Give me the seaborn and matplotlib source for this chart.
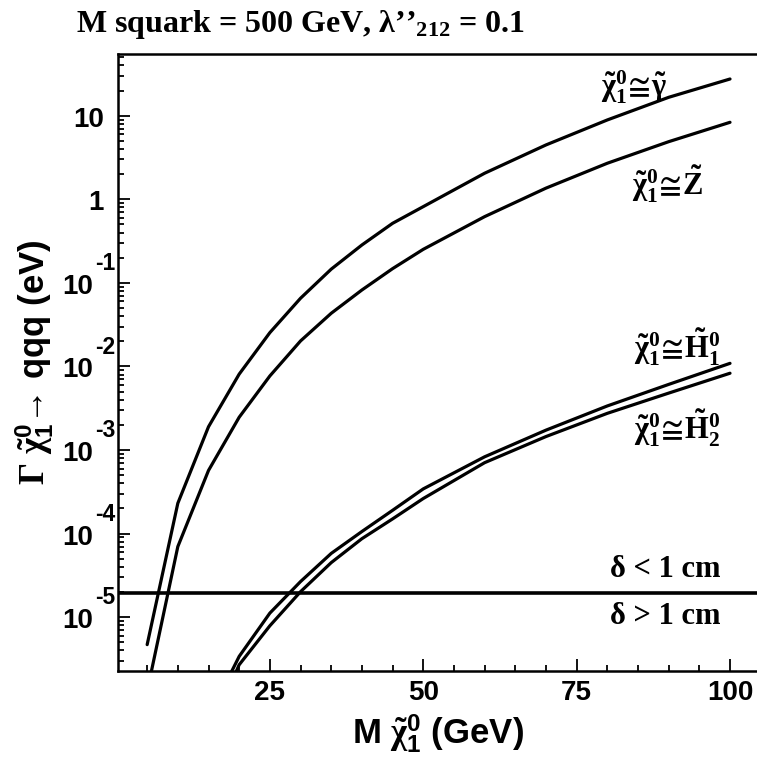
import numpy as np
import pandas as pd
import matplotlib
matplotlib.use('Agg')
import matplotlib.pyplot as plt
import matplotlib.ticker as mticker
import seaborn as sns

# neutralino mass (GeV) and decay width (eV)
mass_gaugino = [5, 10, 15, 20, 25, 30, 35, 40, 45, 50, 60, 70, 80, 90, 100]
width_photino = [4.7e-6, 2.31e-4, 1.9e-3, 8.1e-3, 0.0254, 0.0655, 0.146, 0.284,
                 0.516, 0.817, 2.05, 4.47, 8.9, 16.6, 27.5]
width_zino = [1.3e-6, 7.0e-5, 5.7e-4, 2.47e-3, 7.7e-3, 0.0202, 0.0433, 0.0822,
              0.148, 0.252, 0.62, 1.36, 2.70, 4.89, 8.34]

mass_higgsino = [15, 20, 25, 30, 35, 40, 45, 50, 60, 70, 80, 90, 100]
width_h1 = [6.3e-7, 3.4e-6, 1.12e-5, 2.67e-5, 5.8e-5, 1.06e-4, 1.9e-4, 3.43e-4,
            8.3e-4, 1.73e-3, 3.37e-3, 6.1e-3, 0.0109]
width_h2 = [4.0e-7, 2.7e-6, 7.9e-6, 2.02e-5, 4.5e-5, 8.7e-5, 1.5e-4, 2.63e-4,
            7.06e-4, 1.45e-3, 2.75e-3, 4.8e-3, 8.3e-3]

delta_1cm = 1.97e-5  # width giving a 1 cm decay length
decades = [-5, -4, -3, -2, -1, 0, 1]

df = pd.concat([
    pd.DataFrame({'mass': mass_gaugino, 'width': width_photino, 'model': 'photino'}),
    pd.DataFrame({'mass': mass_gaugino, 'width': width_zino, 'model': 'zino'}),
    pd.DataFrame({'mass': mass_higgsino, 'width': width_h1, 'model': 'h1'}),
    pd.DataFrame({'mass': mass_higgsino, 'width': width_h2, 'model': 'h2'}),
], ignore_index=True)

sns.set_theme(style='ticks')
plt.rcParams['font.family'] = ['Liberation Sans', 'DejaVu Sans']
plt.rcParams['font.weight'] = 'bold'
plt.rcParams['axes.labelweight'] = 'bold'
plt.rcParams['text.color'] = 'black'
plt.rcParams['axes.labelcolor'] = 'black'
plt.rcParams['mathtext.fontset'] = 'custom'
plt.rcParams['mathtext.rm'] = 'Liberation Serif:bold'
plt.rcParams['mathtext.it'] = 'Liberation Serif:italic:bold'
plt.rcParams['mathtext.bf'] = 'Liberation Serif:bold'
plt.rcParams['mathtext.sf'] = 'Liberation Sans:bold'
plt.rcParams['mathtext.default'] = 'rm'

fig = plt.figure(figsize=(7.57, 7.59), dpi=100)
ax = fig.add_axes([0.1563, 0.1163, 0.8437, 0.8132])

sns.lineplot(data=df, x='mass', y='width', hue='model', units='model',
             estimator=None, sort=False, palette=['black'] * 4,
             linewidth=2.3, legend=False, ax=ax)
ax.axhline(delta_1cm, color='black', linewidth=2.6)

ax.set_yscale('log')
ax.set_xlim(0.3, 104.4)
ax.set_ylim(2.29e-6, 55.5)

ax.xaxis.set_major_locator(mticker.MultipleLocator(25))
ax.xaxis.set_minor_locator(mticker.MultipleLocator(5))
ax.xaxis.set_major_formatter(mticker.FuncFormatter(lambda v, p: '%d' % v))
ax.yaxis.set_major_locator(mticker.LogLocator(base=10, numticks=20))
ax.yaxis.set_minor_locator(mticker.LogLocator(base=10, subs=np.arange(2, 10), numticks=20))
ax.yaxis.set_minor_formatter(mticker.NullFormatter())
ax.yaxis.set_major_formatter(mticker.NullFormatter())

# ROOT-style decade labels: "10" with a large raised exponent
for e in decades:
    v = 10.0 ** e
    if e >= 0:
        ax.annotate('1' if e == 0 else '10', xy=(0, v),
                    xycoords=('axes fraction', 'data'), xytext=(-10.5, -7.9),
                    textcoords='offset points', ha='right', va='baseline',
                    fontsize=20, fontweight='bold', annotation_clip=False)
    else:
        ax.annotate('10', xy=(0, v), xycoords=('axes fraction', 'data'),
                    xytext=(-18, -7.9), textcoords='offset points', ha='right',
                    va='baseline', fontsize=20, fontweight='bold',
                    annotation_clip=False)
        ax.annotate('-%d' % (-e), xy=(0, v), xycoords=('axes fraction', 'data'),
                    xytext=(-2.3, 9.2), textcoords='offset points', ha='right',
                    va='baseline', fontsize=16.5, fontweight='bold',
                    annotation_clip=False)

ax.tick_params(which='both', direction='in', left=True, bottom=True,
               top=False, right=False, colors='black', width=1.3)
ax.tick_params(which='major', length=8.5, labelsize=20)
ax.tick_params(which='minor', length=4.5)
ax.tick_params(axis='x', pad=7)

for s in ['top', 'left', 'bottom']:
    ax.spines[s].set_linewidth(1.8)
    ax.spines[s].set_color('black')
ax.spines['right'].set_visible(False)

ax.set_xlabel(r'M $\tilde{\chi}^{\mathsf{0}}_{\mathsf{1}}$ (GeV)', fontsize=25,
              fontweight='bold', va='center')
ax.xaxis.set_label_coords(0.5, -0.102)
ax.set_ylabel(r'$\Gamma\ \tilde{\chi}^{\mathsf{0}}_{\mathsf{1}}$→ qqq (eV)',
              fontsize=25, fontweight='bold', va='center')
ax.yaxis.set_label_coords(-0.13, 0.5)

serif = dict(family='Liberation Serif', weight='bold', color='black')
ax.text(89.7, 16.9, r'$\tilde{\chi}^{0}_{1}\!\cong\!\tilde{\gamma}$', ha='right',
        va='baseline', fontsize=22, **serif)
ax.text(95.6, 1.12, r'$\tilde{\chi}^{0}_{1}\!\cong\!\tilde{Z}$', ha='right',
        va='baseline', fontsize=22, **serif)
ax.text(98.4, 0.0126, r'$\tilde{\chi}^{0}_{1}\!\cong\!\tilde{H}^{0}_{1}$', ha='right',
        va='baseline', fontsize=22, **serif)
ax.text(98.4, 1.32e-3, r'$\tilde{\chi}^{0}_{1}\!\cong\!\tilde{H}^{0}_{2}$', ha='right',
        va='baseline', fontsize=22, **serif)
ax.text(98.4, 3.06e-5, 'δ < 1 cm', ha='right', va='baseline', fontsize=22, **serif)
ax.text(98.4, 8.3e-6, 'δ > 1 cm', ha='right', va='baseline', fontsize=22, **serif)

fig.text(0.1, 0.958, 'M squark = 500 GeV, λ’’$_{212}$ = 0.1', ha='left',
         va='baseline', fontsize=23, **serif)

fig.savefig('out.png', dpi=100)
